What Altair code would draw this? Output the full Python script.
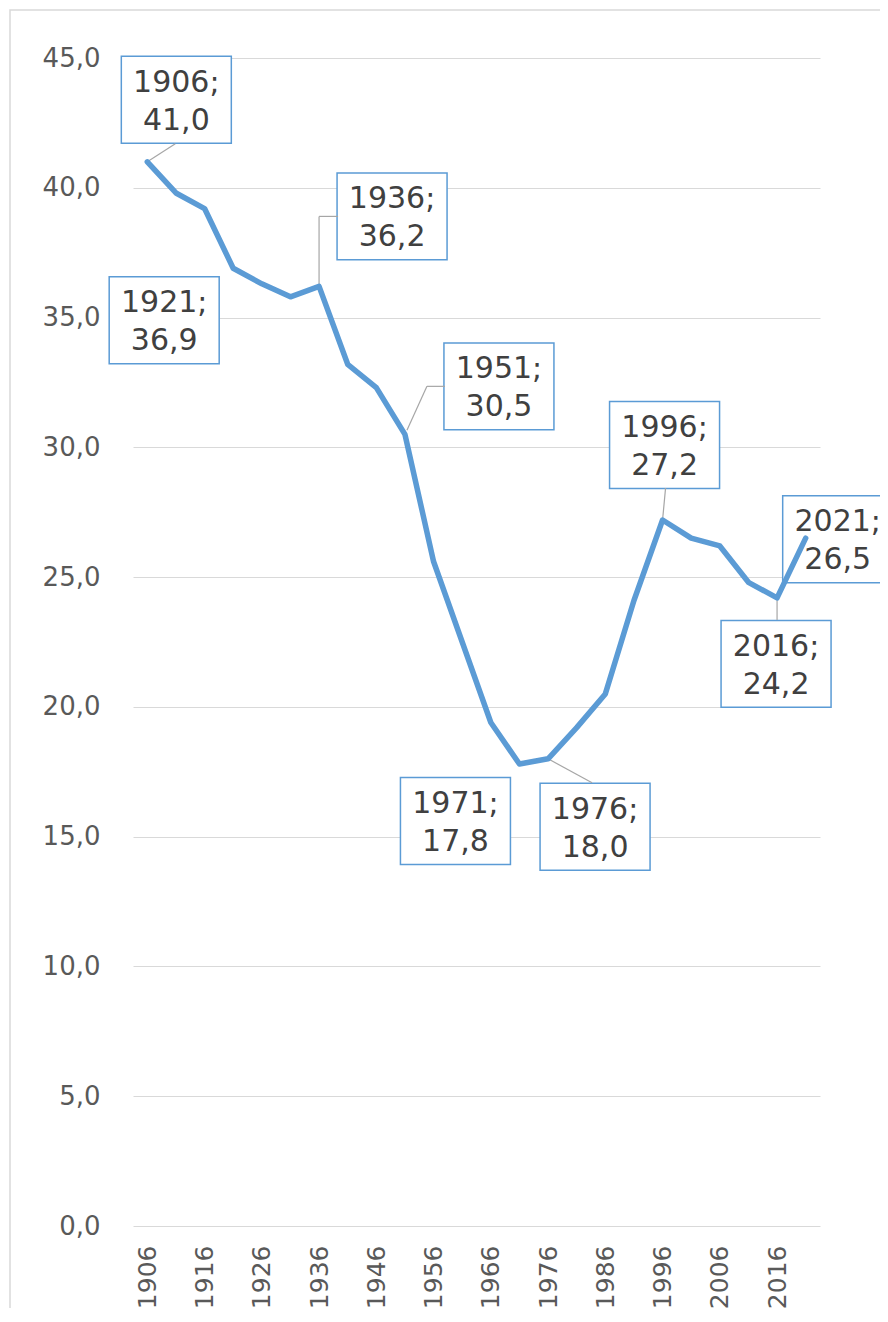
import altair as alt
import pandas as pd

# ---- data ----
years = [1906, 1911, 1916, 1921, 1926, 1931, 1936, 1941, 1946, 1951, 1956, 1961,
         1966, 1971, 1976, 1981, 1986, 1991, 1996, 2001, 2006, 2011, 2016, 2021]
values = [41.0, 39.8, 39.2, 36.9, 36.3, 35.8, 36.2, 33.2, 32.3, 30.5, 25.6, 22.5,
          19.4, 17.8, 18.0, 19.2, 20.5, 24.1, 27.2, 26.5, 26.2, 24.8, 24.2, 26.5]
x_tick_labels = [1906, 1916, 1926, 1936, 1946, 1956, 1966, 1976, 1986, 1996, 2006, 2016]
y_tick_labels = [0, 5, 10, 15, 20, 25, 30, 35, 40, 45]
labelled_years = [1906, 1921, 1936, 1951, 1971, 1976, 1996, 2016, 2021]

# ---- layout of the data-label callouts (pixel offsets from the data point) ----
box_offsets = {1906: (29, -62), 1921: (-69, 52), 1936: (73, -70), 1951: (94, -48),
               1971: (-64, 57), 1976: (47, 68), 1996: (2, -75), 2016: (-1, 66),
               2021: (32, 1)}
leaders = {1906: [(0, 0), (28, -18)],
           1936: [(0, 0), (0, -70), (19, -70)],
           1951: [(2, -4), (22, -48), (40, -48)],
           1976: [(0, 0), (44, 24)],
           1996: [(0, 0), (3, -32)],
           2016: [(0, 0), (0, 22)]}

BLUE = "#5B9BD5"
GRID = "#d9d9d9"
LABEL = "#595959"
TEXT = "#404040"
FONT = "DejaVu Sans"

df = pd.DataFrame({"year": years, "value": values})

xscale = alt.Scale(domain=[1903.5, 2023.5], nice=False, zero=False)
yscale = alt.Scale(domain=[0, 45], nice=False, zero=False)

x_axis = alt.Axis(values=x_tick_labels, format="d", labelAngle=-90, ticks=False,
                  domain=False, grid=False, labelPadding=19, labelFontSize=25,
                  labelColor=LABEL, labelFont=FONT, title=None, labelFlush=False,
                  labelOverlap=False)
y_axis = alt.Axis(values=y_tick_labels,
                  labelExpr="replace(format(datum.value, '.1f'), '.', ',')",
                  ticks=False, domain=False, grid=True, gridColor=GRID, gridWidth=1.2,
                  labelPadding=33, labelFontSize=26, labelColor=LABEL, labelFont=FONT,
                  title=None, labelFlush=False)

base = alt.Chart(df)
X = alt.X("year:Q", scale=xscale, axis=x_axis)
Y = alt.Y("value:Q", scale=yscale, axis=y_axis)

# outer chart border (decoration)
border = alt.Chart(alt.Data(values=[{"k": 1}])).mark_rect(
    fillOpacity=0, stroke=GRID, strokeWidth=1.5
).encode(x=alt.value(-123), x2=alt.value(900), y=alt.value(-48), y2=alt.value(1400))

line = base.mark_line(color=BLUE, strokeWidth=5.5, strokeCap="round",
                      strokeJoin="round").encode(x=X, y=Y)

box_layers, leader_layers, text_layers = [], [], []
for yr in labelled_years:
    sel = base.transform_filter(alt.datum.year == yr).transform_calculate(
        label="datum.year + ';\\n' + replace(format(datum.value, '.1f'), '.', ',')"
    )
    dx, dy = box_offsets[yr]
    box_layers.append(sel.mark_point(
        shape="M-1,-0.79H1V0.79H-1Z", size=12100, filled=True, fill="white",
        fillOpacity=1, opacity=1, stroke=BLUE, strokeWidth=1.5,
        xOffset=dx, yOffset=dy).encode(x=X, y=Y))
    text_layers.append(sel.mark_text(
        font=FONT, fontSize=30, color=TEXT, align="center", baseline="middle",
        lineBreak="\n", lineHeight=38, xOffset=dx, yOffset=dy - 17).encode(
        x=X, y=Y, text="label:N"))
    pts = leaders.get(yr, [])
    for (ax, ay), (bx, by) in zip(pts[:-1], pts[1:]):
        leader_layers.append(sel.mark_rule(
            color="#a6a6a6", strokeWidth=1.2, xOffset=ax, yOffset=ay,
            x2Offset=bx, y2Offset=by).encode(
            x=X, y=Y, x2="year:Q", y2="value:Q"))

chart = alt.layer(border, *box_layers, *leader_layers, line, *text_layers).properties(
    width=687, height=1168,
    autosize=alt.AutoSizeParams(type="none"),
    padding={"left": 125, "top": 50, "right": 60, "bottom": 82},
    background="white",
).configure_view(stroke=None)

chart.save("out.html", embed_options={"renderer": "svg", "actions": False})
